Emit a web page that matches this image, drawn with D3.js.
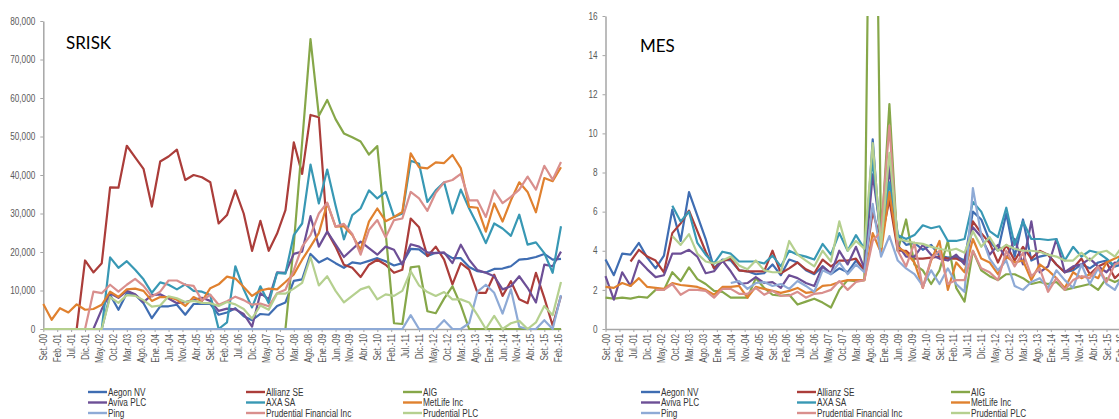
<!DOCTYPE html>
<html>
<head>
<meta charset="utf-8">
<script src="https://cdn.jsdelivr.net/npm/d3@7"></script>
<style>
  body { margin: 0; background: #fff; }
  svg { display: block; }
  text { font-family: "Liberation Sans", Arial, sans-serif; }
</style>
</head>
<body>
<svg id="chart" width="1119" height="419"></svg>
<script>
// SHARED
const dates = ["2000-09","2000-12","2001-03","2001-06","2001-09","2001-12","2002-03","2002-06","2002-09","2002-12",
  "2003-03","2003-06","2003-09","2003-12","2004-03","2004-06","2004-09","2004-12","2005-03","2005-06",
  "2005-09","2005-12","2006-03","2006-06","2006-09","2006-12","2007-03","2007-06","2007-09","2007-12",
  "2008-03","2008-06","2008-09","2008-12","2009-03","2009-06","2009-09","2009-12","2010-03","2010-06",
  "2010-09","2010-12","2011-03","2011-06","2011-09","2011-12","2012-03","2012-06","2012-09","2012-12",
  "2013-03","2013-06","2013-09","2013-12","2014-03","2014-06","2014-09","2014-12","2015-03","2015-06",
  "2015-09","2015-12","2016-03"];
const tickLabels = ["Set.-00","Feb.-01","Jul.-01","Dic.-01","May.-02","Oct.-02","Mar.-03","Ago.-03","Ene.-04","Jun.-04",
  "Nov.-04","Abr.-05","Set.-05","Feb.-06","Jul.-06","Dic.-06","May.-07","Oct.-07","Mar.-08","Ago.-08",
  "Ene.-09","Jun.-09","Nov.-09","Abr.-10","Set.-10","Feb.-11","Jul.-11","Dic.-11","May.-12","Oct.-12",
  "Mar.-13","Ago.-13","Ene.-14","Jun.-14","Nov.-14","Abr.-15","Set.-15","Feb.-16"];
const seriesNames = ["Aegon NV","Allianz SE","AIG","Aviva PLC","AXA SA","MetLife Inc","Ping","Prudential Financial Inc","Prudential PLC"];
const seriesColors = ["#3f6db2","#ab3d3a","#86a749","#6d4f96","#3898b4","#e0812f","#8eaad6","#d98f8d","#b5d08f"];

// SRISK
const sriskAegon = [0,0,0,0,0,0,0,0,8900,5000,9300,8900,6700,2800,5900,5900,6300,3700,6500,6500,6500,3700,4300,5400,3300,2300,3900,3700,6000,6900,12500,12900,19500,17300,18400,17100,15900,17300,17000,17700,18400,17600,16500,17100,20800,20700,19000,19800,19700,18400,18400,16100,15000,14700,15600,15700,16300,18000,18200,18700,19500,18000,18200];
const sriskAllianz = [0,0,0,0,0,17800,14700,17100,36800,36700,47600,44600,41600,31800,43500,44800,46600,38700,40000,39400,38100,27400,29600,36000,30000,20300,28100,20300,24800,30900,48500,40300,55600,55000,25300,21400,16700,15900,13500,16700,18000,16700,14600,15400,28700,26400,18900,21400,18000,11600,17100,15400,9400,9400,14100,8600,12400,7700,6700,14600,8100,900,8600];
const sriskAIG = [0,0,0,0,0,0,0,0,0,0,0,0,0,0,0,0,0,0,0,0,0,0,0,0,0,0,0,0,0,0,22000,48500,75300,55400,59500,54500,50800,49800,48700,45300,47500,25000,1500,1300,16000,16300,4600,4100,7900,11100,6200,0,0,0,0,0,0,0,0,0,0,0,0];
const sriskAviva = [0,0,0,0,0,0,0,5100,9300,8100,9900,9000,7000,8800,9000,7900,6700,7000,7500,8100,7300,4700,5300,5100,3900,600,9300,7700,14700,14600,19500,20100,29300,21400,25300,22000,18700,20700,22700,21000,19300,21400,20600,16700,22000,21400,19900,19700,19900,17100,21900,18000,15300,14600,13700,10300,11100,13700,10700,6900,16700,16300,20100];
const sriskAXA = [0,0,0,0,0,0,0,0,18600,15900,17600,15400,12900,9400,12100,11500,10300,11600,9900,9700,8800,0,1700,16300,10300,5600,11100,6700,14600,14400,24400,27400,42700,32600,41400,32100,23300,29600,31300,36000,33900,35600,29100,30000,43700,42900,33000,36000,38100,30000,36200,31300,27000,22300,27400,26100,24200,29700,21900,22500,19700,14600,26700];
const sriskMetLife = [6500,2400,5400,4300,6400,5000,5200,6300,9700,8300,10300,10500,9900,7300,8300,8300,7600,6000,8300,7200,10600,11600,13600,13100,10900,8600,10000,10500,10300,12200,14200,18000,21400,24900,32600,26600,26700,24400,20600,27900,31300,28000,29100,30400,45600,42000,41700,43300,43100,45200,41800,31700,31500,25300,32600,27900,33400,38100,35600,30300,39200,38400,42000];
const sriskPing = [0,0,0,0,0,0,0,0,0,0,0,0,0,0,0,0,0,0,0,0,0,0,0,0,0,0,0,0,0,0,0,0,0,0,0,0,0,0,0,0,0,0,0,0,3600,0,0,0,2300,0,0,1500,9700,11500,9400,4000,10300,600,0,0,2300,0,8800];
const sriskPruFin = [0,0,0,0,0,0,9700,9300,11500,9700,11500,13000,11200,8400,9700,12600,12600,11500,11200,7400,8900,6300,7200,8400,7500,6300,6600,5900,9300,10200,15300,21400,24400,30000,32800,26600,27300,24700,19300,25700,28300,23800,28300,28700,35600,33900,30700,35400,38100,38700,40300,33400,33400,29100,36000,32700,34300,36200,39600,36200,42400,38800,43400];
const sriskPruPLC = [0,0,0,0,0,0,0,0,8300,6800,8800,8600,7500,5800,6100,8500,8000,7000,7300,6800,6700,6000,7000,6400,5200,2700,6100,5000,9200,9200,10500,12000,18700,11300,13700,9900,6900,8600,10300,11000,7700,9000,8600,9900,15000,11300,9600,8600,9600,7700,7700,6900,3600,0,3400,0,1500,2100,0,1700,6000,3600,12200];

// MES
const mesAegon = [3.55,2.75,3.85,3.8,4.4,3.65,3.1,3.75,6.1,4.5,7.0,5.8,4.6,3.1,3.55,3.5,3.0,2.95,2.8,2.85,3.3,2.75,3.55,3.4,3.0,2.8,3.2,2.8,3.1,2.9,3.5,3.0,9.7,4.0,8.4,4.8,4.3,4.4,4.05,4.3,3.75,3.65,3.7,3.5,6.0,5.6,4.5,4.0,5.9,3.7,5.6,3.5,3.7,3.8,3.3,2.9,3.0,3.3,3.1,3.4,3.5,3.2,3.3];
const mesAllianz = [null,null,null,3.45,4.05,3.7,3.5,2.9,4.9,5.4,6.05,5.0,3.95,3.1,3.45,3.6,3.0,2.95,2.95,2.95,4.0,2.85,3.1,3.4,3.05,2.85,3.55,3.2,3.5,3.5,3.6,3.0,6.0,4.5,6.6,4.0,4.0,3.6,3.6,3.65,3.7,3.6,3.6,3.4,5.5,4.9,4.4,3.4,4.3,3.5,4.2,3.6,4.0,3.8,3.3,2.9,3.1,3.6,2.8,3.2,3.4,2.6,3.0];
const mesAIG = [1.6,1.55,1.6,1.55,1.65,1.6,2.0,2.0,2.9,2.45,3.15,2.55,2.3,1.95,1.9,1.6,1.6,1.6,2.6,2.1,1.75,1.7,1.75,1.25,1.4,1.55,1.35,1.1,2.0,2.5,2.45,2.5,38,4.5,11.5,4.0,5.6,3.3,3.0,2.3,3.0,4.5,2.1,1.4,4.0,3.0,2.7,2.5,2.8,2.8,2.6,2.3,2.4,2.3,2.4,2.0,2.1,2.2,2.3,2.0,2.6,2.4,2.6];
const mesAviva = [2.7,1.5,2.9,2.2,3.5,3.05,2.65,2.75,3.85,3.85,4.05,3.7,2.85,2.95,3.5,2.95,2.3,2.35,2.65,2.35,2.4,2.1,2.75,2.6,2.35,2.2,3.2,2.85,4.0,3.3,4.2,3.1,7.9,4.8,8.2,4.3,3.7,3.7,4.3,3.8,3.6,3.5,3.8,3.3,5.2,4.7,3.8,4.3,3.6,4.6,3.3,5.5,2.9,3.2,4.6,2.9,3.2,3.3,3.6,3.2,2.9,3.4,3.3];
const mesAXA = [null,null,null,null,null,null,null,null,6.3,5.5,6.0,4.4,3.8,3.35,3.95,3.85,3.45,3.45,3.45,3.35,3.75,3.2,4.0,3.8,3.7,3.55,4.35,3.8,4.9,4.0,4.8,4.1,8.7,4.5,7.5,4.8,4.6,4.8,5.3,5.15,5.25,4.5,4.5,4.6,6.5,6.0,5.0,4.7,6.2,4.3,5.5,4.6,4.6,4.55,4.6,3.5,4.2,3.7,4.0,3.9,3.6,3.2,3.9];
const mesMetLife = [2.15,2.1,2.35,2.2,2.6,2.15,2.1,2.05,2.35,2.25,2.2,2.15,2.0,1.75,2.15,2.15,2.2,1.6,2.15,2.05,1.95,1.85,1.95,2.1,1.85,1.9,2.2,2.25,2.4,2.5,2.5,2.5,4.9,3.9,7.0,4.2,3.9,3.4,2.1,3.5,4.5,2.0,3.4,2.9,4.6,3.6,3.4,2.8,3.7,3.4,3.5,2.5,3.3,3.0,2.6,2.1,2.9,2.6,2.8,2.6,3.4,3.6,3.8];
const mesPing = [null,null,null,null,null,null,null,null,null,null,null,null,null,null,null,2.35,2.45,2.05,2.35,2.4,2.2,2.3,2.05,2.45,2.2,1.9,3.0,2.8,3.4,2.8,3.3,2.9,6.4,3.7,4.75,3.5,3.1,2.8,2.2,3.0,2.3,3.1,2.3,1.9,7.2,4.8,3.6,3.0,3.5,2.2,2.0,2.4,2.6,2.1,3.0,2.5,2.1,3.3,2.3,3.1,2.3,2.0,2.8];
const mesPruFin = [null,null,null,null,null,null,2.0,2.0,2.3,1.75,2.0,2.0,1.95,1.6,2.05,2.05,1.8,1.8,2.1,1.75,1.95,1.7,1.7,1.9,1.6,1.8,1.85,2.0,2.45,2.0,2.4,2.5,4.5,5.0,10.4,4.0,3.2,4.4,2.1,3.6,4.0,2.3,2.5,2.5,4.0,3.1,2.9,2.5,4.0,3.2,3.9,2.7,3.1,1.9,2.6,2.0,2.5,2.7,2.6,3.2,2.4,3.3,3.5];
const mesPruPLC = [null,null,null,null,null,null,null,null,4.75,4.3,4.85,3.85,3.45,3.35,3.5,3.7,3.25,3.05,3.5,3.0,2.9,2.9,4.5,3.8,3.5,3.2,4.0,3.45,5.5,4.0,4.5,4.1,9.5,4.2,9.0,4.6,4.5,4.4,4.35,4.2,4.1,4.0,4.1,3.9,5.0,4.2,4.7,4.0,4.3,4.1,4.0,4.0,3.95,3.8,3.7,3.5,3.5,3.9,3.5,3.9,4.0,3.7,4.3];

const sriskSeries = [sriskAegon, sriskAllianz, sriskAIG, sriskAviva, sriskAXA, sriskMetLife, sriskPing, sriskPruFin, sriskPruPLC];
const mesSeries = [mesAegon, mesAllianz, mesAIG, mesAviva, mesAXA, mesMetLife, mesPing, mesPruFin, mesPruPLC];

// months counted from Sep 2000
const monthAbbr = {Ene: 1, Feb: 2, Mar: 3, Abr: 4, May: 5, Jun: 6, Jul: 7, Ago: 8, Set: 9, Oct: 10, Nov: 11, Dic: 12};
function dateToMonth(s) {
    const p = s.split("-").map(Number);
    return (p[0] - 2000) * 12 + p[1] - 9;
}
function labelToMonth(s) {
    return (+s.slice(-2)) * 12 + monthAbbr[s.slice(0, 3)] - 9;
}
const months = dates.map(dateToMonth);
const tickMonths = tickLabels.map(labelToMonth);

const svg = d3.select("#chart");
const baseY = 329;

// squeeze a text to a narrow face (Arial Narrow is ~82% of Arial)
function narrow(sel) {
    sel.each(function () {
        const w = this.getComputedTextLength();
        if (w > 0) {
            d3.select(this)
                .attr("textLength", w * 0.82)
                .attr("lengthAdjust", "spacingAndGlyphs");
        }
    });
}

function drawPanel(id, left, top, yMax, yStep, yFormat, values, title, titlePos, legendCols) {
    const g = svg.append("g").attr("id", id);

    const x = d3.scaleLinear()
        .domain([0, 186])
        .range([left, left + 517.7]);
    const y = d3.scaleLinear()
        .domain([0, yMax])
        .range([baseY, top]);

    // clip lines at the top of the plot area
    g.append("clipPath")
        .attr("id", id + "-clip")
      .append("rect")
        .attr("x", left - 3)
        .attr("y", top)
        .attr("width", 540)
        .attr("height", baseY - top + 6);

    // Y AXIS
    const yAxis = g.append("g")
        .attr("transform", `translate(${left},0)`)
        .call(d3.axisLeft(y)
            .tickValues(d3.range(0, yMax + yStep / 2, yStep))
            .tickFormat(yFormat)
            .tickSizeInner(3)
            .tickSizeOuter(0)
            .tickPadding(5));
    yAxis.select(".domain").attr("stroke", "#a6a6a6").attr("stroke-width", 1.5);
    yAxis.selectAll(".tick line").attr("stroke", "#a6a6a6");
    yAxis.selectAll(".tick text")
        .attr("fill", "#595959")
        .style("font-family", "'Liberation Sans', Arial, sans-serif")
        .style("font-size", "10px")
        .call(narrow);

    // X AXIS
    const xAxis = g.append("g")
        .attr("transform", `translate(0,${baseY})`)
        .call(d3.axisBottom(x)
            .tickValues(tickMonths)
            .tickFormat((d, i) => tickLabels[i])
            .tickSizeInner(3)
            .tickSizeOuter(0));
    xAxis.select(".domain").attr("stroke", "#a6a6a6").attr("stroke-width", 1.5);
    xAxis.selectAll(".tick line").attr("stroke", "#a6a6a6");
    xAxis.selectAll(".tick text")
        .attr("fill", "#595959")
        .style("font-family", "'Liberation Sans', Arial, sans-serif")
        .style("font-size", "10px")
        .attr("text-anchor", "end")
        .attr("transform", "rotate(-90)")
        .attr("x", -5)
        .attr("y", 0)
        .attr("dy", "0.35em")
        .call(narrow);

    // LINES
    const line = d3.line()
        .defined(d => d[1] != null)
        .x(d => x(d[0]))
        .y(d => y(d[1]));

    const lines = g.append("g").attr("clip-path", `url(#${id}-clip)`);
    values.forEach(function (vals, k) {
        lines.append("path")
            .datum(vals.map((v, j) => [months[j], v]))
            .attr("fill", "none")
            .attr("stroke", seriesColors[k])
            .attr("stroke-width", 2.2)
            .attr("stroke-linejoin", "round")
            .attr("d", line);
    });

    // TITLE
    g.append("text")
        .attr("x", titlePos[0])
        .attr("y", titlePos[1])
        .style("font-family", "Lato, 'Open Sans', sans-serif")
        .style("font-size", "17px")
        .attr("fill", "#000")
        .text(title);

    // LEGEND
    const rowsY = [392, 402.5, 413];
    seriesNames.forEach(function (name, k) {
        const lx = legendCols[k % 3];
        const ly = rowsY[Math.floor(k / 3)];
        g.append("line")
            .attr("x1", lx).attr("x2", lx + 19)
            .attr("y1", ly).attr("y2", ly)
            .attr("stroke", seriesColors[k])
            .attr("stroke-width", 2.4);
        g.append("text")
            .attr("x", lx + 20)
            .attr("y", ly)
            .attr("dy", "0.35em")
            .style("font-size", "10px")
            .attr("fill", "#333")
            .text(name)
            .call(narrow);
    });
}

drawPanel("srisk", 43.3, 21, 80000, 10000, d3.format(","), sriskSeries, "SRISK", [66, 49], [88, 246, 403]);
drawPanel("mes", 605.5, 16, 16, 2, d3.format("d"), mesSeries, "MES", [640, 52], [641, 797, 951]);
</script>
</body>
</html>
